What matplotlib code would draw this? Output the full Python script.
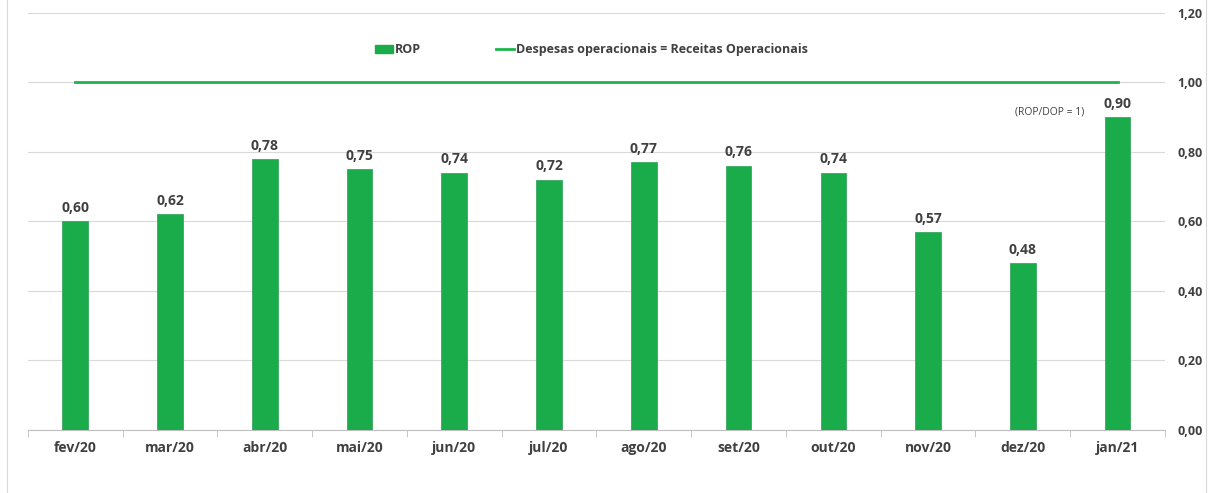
import matplotlib.pyplot as plt
import numpy as np
from matplotlib.patches import Rectangle
from matplotlib.lines import Line2D

meses = ['fev/20', 'mar/20', 'abr/20', 'mai/20', 'jun/20', 'jul/20',
         'ago/20', 'set/20', 'out/20', 'nov/20', 'dez/20', 'jan/21']
rop = [0.60, 0.62, 0.78, 0.75, 0.74, 0.72, 0.77, 0.76, 0.74, 0.57, 0.48, 0.90]
equilibrio = [1.00] * len(meses)
yticks = [0.0, 0.2, 0.4, 0.6, 0.8, 1.0, 1.2]

verde_barra = '#1aab4b'
verde_linha = '#1db44c'
cinza_txt = '#404040'

plt.rcParams['font.family'] = ['Open Sans', 'DejaVu Sans']

fig = plt.figure(figsize=(12.11, 4.93), dpi=100)
ax = fig.add_axes([0.023, 0.128, 0.939, 0.846])

x = np.arange(len(meses))
ax.bar(x, rop, width=0.27, color=verde_barra, edgecolor='#3aa860', linewidth=0.6, zorder=3)
ax.plot(x, equilibrio, color=verde_linha, linewidth=2, zorder=4)

for xi, v in zip(x, rop):
    ax.text(xi, v + 0.018, f'{v:.2f}'.replace('.', ','), ha='center', va='bottom',
            fontsize=10, fontweight='bold', color=cinza_txt)

ax.text(10.28, 0.915, '(ROP/DOP = 1)', ha='center', va='center', fontsize=7.5, color=cinza_txt)

ax.set_xlim(-0.5, len(meses) - 0.5)
ax.set_ylim(0, 1.2)
ax.set_xticks(x)
ax.set_xticklabels(meses, fontsize=10, fontweight='bold', color=cinza_txt)
ax.set_xticks(np.arange(-0.5, len(meses), 1), minor=True)
ax.tick_params(axis='x', which='major', length=0, pad=8)
ax.tick_params(axis='x', which='minor', length=5, color='#bfbfbf')

ax.yaxis.tick_right()
ax.set_yticks(yticks)
ax.set_yticklabels([f'{t:.2f}'.replace('.', ',') for t in yticks],
                   fontsize=9, fontweight='bold', color=cinza_txt)
ax.tick_params(axis='y', length=0, pad=9)
ax.grid(axis='y', color='#d9d9d9', linewidth=0.8, zorder=0)

for s in ['top', 'left', 'right']:
    ax.spines[s].set_visible(False)
ax.spines['bottom'].set_color('#bfbfbf')

handles = [Rectangle((0, 0), 1, 1, color=verde_barra),
           Line2D([0], [0], color=verde_linha, linewidth=2)]
ax.legend(handles, ['ROP', 'Despesas operacionais = Receitas Operacionais'],
          loc='center', bbox_to_anchor=(0.496, 0.911), ncol=2, frameon=False,
          columnspacing=6, handlelength=1.4, handletextpad=0.2,
          prop={'weight': 'bold', 'size': 9}, labelcolor=cinza_txt)

fig.patches.append(Rectangle((0.006, -0.01), 0.99, 1.02, transform=fig.transFigure,
                             fill=False, edgecolor='#d9d9d9', linewidth=0.8))

fig.savefig('out.png', dpi=100)
